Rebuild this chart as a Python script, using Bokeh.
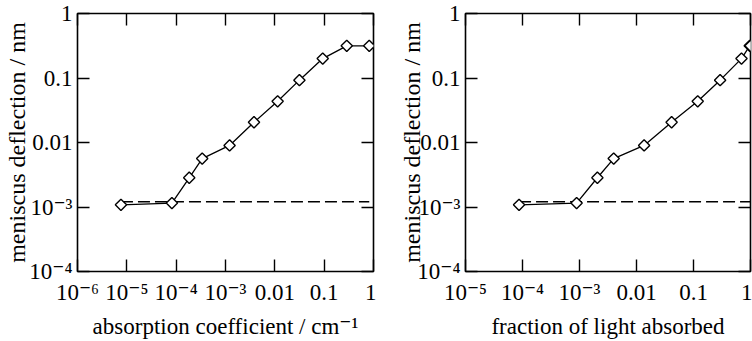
import math
from bokeh.plotting import figure
from bokeh.models import Range1d, LogAxis, FixedTicker, CustomJSTickFormatter
from bokeh.layouts import row
from bokeh.embed import file_html
from bokeh.resources import INLINE

# ---------------- data ----------------
absorption_coeff = [7.6e-6, 8.2e-5, 1.84e-4, 3.37e-4, 1.21e-3, 3.78e-3, 0.0114, 0.0315, 0.0935, 0.287, 0.82]
fraction_absorbed = [8.7e-5, 8.9e-4, 2.06e-3, 3.98e-3, 0.0136, 0.0413, 0.1186, 0.293, 0.695, 0.97, 1.0]
deflection_nm = [1.08e-3, 1.15e-3, 2.84e-3, 5.63e-3, 9.0e-3, 0.0206, 0.0435, 0.0926, 0.2, 0.315, 0.315]

noise_level_nm = 1.21e-3
noise_x_left = [7.6e-6, 0.82]
noise_x_right = [8.7e-5, 1.0]

xticks_left = [1e-6, 1e-5, 1e-4, 1e-3, 1e-2, 1e-1, 1.0]
xlabels_left = ["10⁻⁶", "10⁻⁵", "10⁻⁴", "10⁻³", "0.01", "0.1", "1"]
xticks_right = [1e-5, 1e-4, 1e-3, 1e-2, 1e-1, 1.0]
xlabels_right = ["10⁻⁵", "10⁻⁴", "10⁻³", "0.01", "0.1", "1"]
yticks = [1e-4, 1e-3, 1e-2, 1e-1, 1.0]
ylabels = ["10⁻⁴", "10⁻³", "0.01", "0.1", "1"]

ytitle = "meniscus deflection / nm"
xtitle_left = "absorption coefficient / cm⁻¹"
xtitle_right = "fraction of light absorbed"

# ---------------- style ----------------
FONT = "'Liberation Serif', 'Times New Roman', Tinos, 'DejaVu Serif', serif"
FS = "23px"

LABEL_JS = """
for (let i = 0; i < tvals.length; i++) {
  if (Math.abs(Math.log10(tvals[i]) - Math.log10(tick)) < 1e-6) return tlabels[i];
}
return "";
"""


def style_axis(ax, ticks, labels=None, standoff=8):
    ax.ticker = FixedTicker(ticks=ticks, minor_ticks=[])
    if labels is None:
        ax.formatter = CustomJSTickFormatter(code="return ''")
        ax.major_label_text_font_size = "1px"
        ax.major_label_standoff = 0
    else:
        ax.formatter = CustomJSTickFormatter(args=dict(tvals=ticks, tlabels=labels), code=LABEL_JS)
        ax.major_label_text_font = FONT
        ax.major_label_text_font_size = FS
        ax.major_label_text_color = "black"
        ax.major_label_standoff = standoff
    ax.major_tick_in = 12
    ax.major_tick_out = 0
    ax.major_tick_line_width = 1.4
    ax.major_tick_line_color = "black"
    ax.minor_tick_line_color = None
    ax.axis_line_color = None


def make_panel(xr, xticks, xlabels, xdata, noise_x, border_left, border_right, xtitle,
               ytitle_standoff):
    p = figure(width=376, height=341, x_axis_type="log", y_axis_type="log",
               x_range=Range1d(*xr), y_range=Range1d(1e-4, 1.0),
               output_backend="svg", toolbar_location=None,
               min_border_left=border_left, min_border_right=border_right,
               min_border_top=13, min_border_bottom=65)
    p.grid.visible = False
    p.outline_line_color = "black"
    p.outline_line_width = 1.6
    p.background_fill_color = "white"
    p.border_fill_color = "white"

    xa = p.xaxis[0]
    style_axis(xa, xticks, xlabels, standoff=8)
    xa.axis_label = xtitle
    xa.axis_label_text_font = FONT
    xa.axis_label_text_font_size = FS
    xa.axis_label_text_font_style = "normal"
    xa.axis_label_text_color = "black"
    xa.axis_label_standoff = 6

    ya = p.yaxis[0]
    style_axis(ya, yticks, ylabels, standoff=5)
    ya.axis_label = ytitle
    ya.axis_label_text_font = FONT
    ya.axis_label_text_font_size = "24px"
    ya.axis_label_text_font_style = "normal"
    ya.axis_label_text_color = "black"
    ya.axis_label_standoff = ytitle_standoff

    top = LogAxis(); style_axis(top, xticks); p.add_layout(top, "above")
    right = LogAxis(); style_axis(right, yticks); p.add_layout(right, "right")

    # noise floor (dashed)
    p.line(noise_x, [noise_level_nm] * len(noise_x), line_color="black",
           line_width=1.5, line_dash="12 5")
    # data
    p.line(xdata, deflection_nm, line_color="black", line_width=1.3)
    p.scatter(xdata, deflection_nm, marker="square", angle=math.pi / 4, size=8,
              fill_color="white", line_color="black", line_width=1.4)
    return p


p1 = make_panel((1e-6, 1.0), xticks_left, xlabels_left, absorption_coeff, noise_x_left,
                77, 3, xtitle_left, -4)
p2 = make_panel((1e-5, 1.0), xticks_right, xlabels_right, fraction_absorbed, noise_x_right,
                89, 2, xtitle_right, -11)

layout = row(p1, p2)
open("out.html", "w").write(file_html(layout, INLINE))
